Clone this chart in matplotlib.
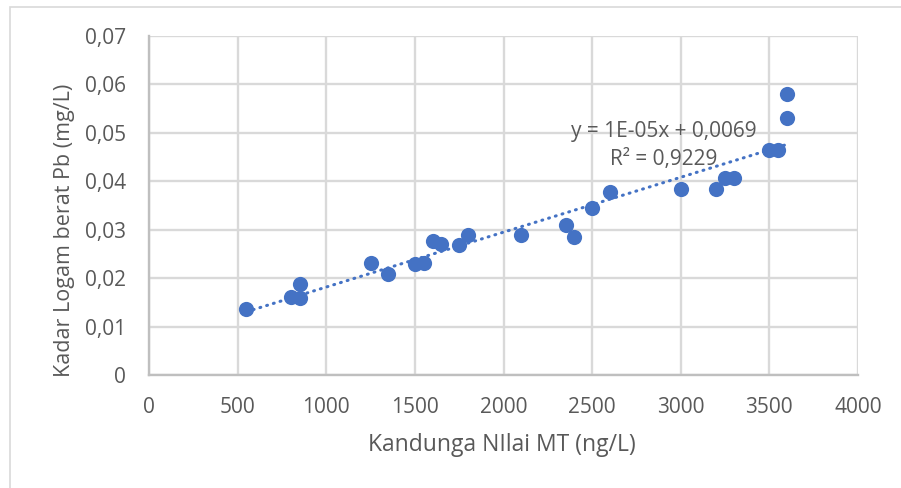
import numpy as np
import matplotlib.pyplot as plt
from matplotlib.ticker import FuncFormatter, MultipleLocator
from matplotlib.patches import Rectangle

# data
mt = [550, 800, 850, 850, 1250, 1350, 1500, 1550, 1600, 1650, 1750, 1800,
      2100, 2350, 2400, 2500, 2600, 3000, 3200, 3250, 3300, 3500, 3550, 3600, 3600]
pb = [0.0137, 0.0161, 0.0187, 0.0159, 0.0232, 0.0208, 0.0230, 0.0232, 0.0277,
      0.0270, 0.0269, 0.0290, 0.0290, 0.0310, 0.0284, 0.0345, 0.0377, 0.0384,
      0.0384, 0.0406, 0.0406, 0.0464, 0.0464, 0.0531, 0.0581]
eq_text = "y = 1E-05x + 0,0069"
r2_text = "R² = 0,9229"

plt.rcParams['font.family'] = ['Open Sans', 'DejaVu Sans']
grey = "#595959"
blue = "#4472C4"

fig = plt.figure(figsize=(9.01, 4.88), dpi=100)
ax = fig.add_axes([149/901, 1-375/488, (858-149)/901, (375-36)/488])

# outer chart border (partly cut off like the screenshot)
fig.patches.append(Rectangle((10/901, -0.05), 1.2, 1-7/488+0.05, transform=fig.transFigure,
                             fill=False, edgecolor="#d9d9d9", linewidth=1.2))

ax.scatter(mt, pb, s=120, color=blue, zorder=3, linewidths=0)

# linear trendline
x = np.array(mt)
a, b = np.polyfit(x, np.array(pb), 1)
xl = np.array([x.min(), x.max()])
ax.plot(xl, a*xl + b, color=blue, linestyle=(0, (0.3, 2.0)), linewidth=2.2,
        dash_capstyle='round', zorder=2)

ax.text(2905, 0.0503, eq_text, ha='center', va='center', fontsize=15, color=grey, zorder=4)
ax.text(2905, 0.0444, r2_text, ha='center', va='center', fontsize=15, color=grey, zorder=4)

ax.set_xlim(0, 4000)
ax.set_ylim(0, 0.07)
ax.xaxis.set_major_locator(MultipleLocator(500))
ax.yaxis.set_major_locator(MultipleLocator(0.01))
ax.yaxis.set_major_formatter(FuncFormatter(lambda v, p: "0" if abs(v) < 1e-9 else f"{v:.2f}".replace(".", ",")))
ax.grid(True, color="#d9d9d9", linewidth=1.7)
ax.set_axisbelow(True)
for s in ax.spines.values():
    s.set_visible(False)
for side in ['left', 'bottom']:
    ax.spines[side].set_visible(True)
    ax.spines[side].set_color("#bfbfbf")
    ax.spines[side].set_linewidth(1.7)
ax.tick_params(length=0, labelsize=15, labelcolor=grey)
ax.tick_params(axis='y', pad=16.5)
ax.tick_params(axis='x', pad=16)

ax.set_xlabel("Kandunga NIlai MT (ng/L)", fontsize=16.5, color=grey, va='center')
ax.set_ylabel("Kadar Logam berat Pb (mg/L)", fontsize=15.5, color=grey, va='center')
ax.xaxis.set_label_coords(0.5 + (502 - 503.5)/709, (375 - 445)/339)
ax.yaxis.set_label_coords((65 - 149)/709, (375 - 230)/339)

fig.savefig("out.png", dpi=100)
